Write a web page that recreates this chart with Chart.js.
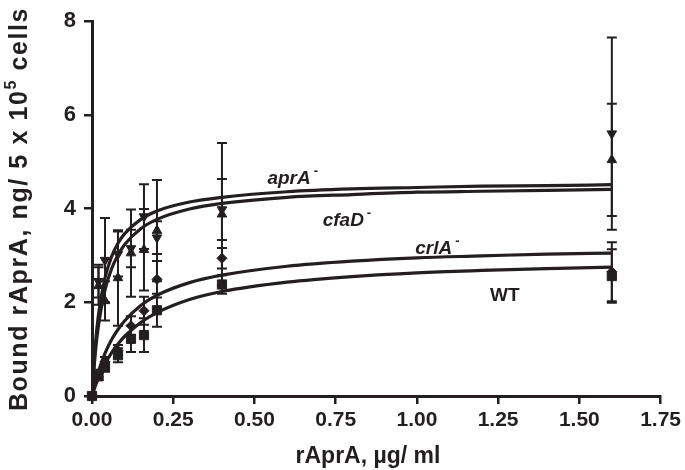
<!DOCTYPE html>
<html><head><meta charset="utf-8">
<script src="https://cdn.jsdelivr.net/npm/chart.js@4.4.0/dist/chart.umd.min.js"></script>
<style>html,body{margin:0;padding:0;background:#fff}</style>
</head><body>
<canvas id="c" width="685" height="470"></canvas>
<script>
// ---- data ----
const conc = [0, 0.02, 0.04, 0.08, 0.12, 0.16, 0.2, 0.4, 1.6];           // µg/ml
const aprA    = [0, 2.45, 2.90, 3.03, 3.15, 3.83, 3.38, 3.98, 5.60];
const aprAErr = [0, 0.35, 0.90, 0.48, 0.40, 0.69, 0.35, 0.65, 2.05];
const cfaD    = [0, 2.35, 2.03, 2.52, 3.05, 3.12, 3.53, 3.88, 5.04];
const cfaDErr = [0, 0.40, 0.42, 1.02, 0.93, 0.87, 1.08, 1.52, 1.20];
const crlA    = [0, 0.48, 0.73, 0.97, 1.50, 1.82, 2.49, 2.94, 2.65];
const crlAErr = [0, 0.08, 0.10, 0.12, 0.20, 0.30, 0.39, 0.22, 0.63];
const wt      = [0, 0.42, 0.62, 0.87, 1.22, 1.30, 1.83, 2.38, 2.56];
const wtErr   = [0, 0.08, 0.10, 0.15, 0.28, 0.36, 0.35, 0.20, 0.57];

// fitted curves, values
const fitX     = [0, 0.01, 0.02, 0.04, 0.06, 0.08, 0.1, 0.15, 0.2, 0.3, 0.4, 0.6, 0.8, 1.0, 1.2, 1.4, 1.6];
const aprAFit  = [0, 1.07, 1.74, 2.52, 2.97, 3.26, 3.46, 3.77, 3.95, 4.14, 4.24, 4.36, 4.42, 4.45, 4.48, 4.49, 4.51];
const cfaDFit  = [0, 0.90, 1.51, 2.26, 2.71, 3.01, 3.23, 3.57, 3.77, 3.99, 4.11, 4.24, 4.30, 4.35, 4.37, 4.39, 4.41];
const crlAFit  = [0, 0.29, 0.53, 0.91, 1.20, 1.42, 1.60, 1.93, 2.15, 2.42, 2.58, 2.77, 2.88, 2.95, 2.99, 3.03, 3.05];
const wtFit    = [0, 0.21, 0.38, 0.68, 0.92, 1.11, 1.27, 1.57, 1.78, 2.06, 2.23, 2.43, 2.55, 2.63, 2.68, 2.72, 2.75];

const xTicks = [0, 0.25, 0.5, 0.75, 1, 1.25, 1.5, 1.75];
const yTicks = [0, 2, 4, 6, 8];

const seriesNames = ['aprA', 'cfaD', 'crlA', 'WT'];
const curveLabels = [
  {text: 'aprA', sup: '-', x: 0.54, y: 4.53, italic: true},
  {text: 'cfaD', sup: '-', x: 0.71, y: 3.62, italic: true},
  {text: 'crlA', sup: '-', x: 0.995, y: 3.03, italic: true},
  {text: 'WT',   sup: '',  x: 1.225, y: 2.03, italic: false}
];
const xTitle = 'rAprA, µg/ ml';
const yTitleParts = ['Bound rAprA, ng/ 5 x 10', '5', ' cells'];

const INK = '#231f20';
const FONT = "'Liberation Sans', Arial, sans-serif";

function pts(xs, ys) { return xs.map((x, i) => ({x: x, y: ys[i]})); }

const pointSets = [
  {label: 'aprA', data: pts(conc, aprA), err: aprAErr, pointStyle: 'triangle', rotation: 180, pointRadius: 5.5},
  {label: 'cfaD', data: pts(conc, cfaD), err: cfaDErr, pointStyle: 'triangle', rotation: 0, pointRadius: 5.5},
  {label: 'crlA', data: pts(conc, crlA), err: crlAErr, pointStyle: 'rectRot', rotation: 0, pointRadius: 5},
  {label: 'WT',   data: pts(conc, wt),   err: wtErr,   pointStyle: 'rect', rotation: 0, pointRadius: 6.5}
].map(d => Object.assign(d, {
  type: 'scatter', showLine: false, backgroundColor: INK, borderColor: INK, borderWidth: 1,
  order: 1, clip: false, pointHoverRadius: d.pointRadius
}));

const curveSets = [aprAFit, cfaDFit, crlAFit, wtFit].map((f, i) => ({
  type: 'line', label: seriesNames[i] + ' fit', data: pts(fitX, f),
  borderColor: INK, borderWidth: 3.2, pointRadius: 0, fill: false,
  cubicInterpolationMode: 'monotone', order: 2
}));

const errorBars = {
  id: 'errorBars',
  beforeDatasetsDraw(chart) {
    const ctx = chart.ctx, xs = chart.scales.x, ys = chart.scales.y;
    ctx.save();
    ctx.strokeStyle = INK; ctx.lineWidth = 2;
    chart.data.datasets.forEach(ds => {
      if (!ds.err) return;
      ds.data.forEach((p, i) => {
        const e = ds.err[i];
        if (!e) return;
        const px = xs.getPixelForValue(p.x);
        const top = ys.getPixelForValue(p.y + e), bot = ys.getPixelForValue(p.y - e);
        ctx.beginPath();
        ctx.moveTo(px, top); ctx.lineTo(px, bot);
        ctx.moveTo(px - 5, top); ctx.lineTo(px + 5, top);
        ctx.moveTo(px - 5, bot); ctx.lineTo(px + 5, bot);
        ctx.stroke();
      });
    });
    ctx.restore();
  }
};

const textPlugin = {
  id: 'texts',
  afterDraw(chart) {
    const ctx = chart.ctx, xs = chart.scales.x, ys = chart.scales.y;
    ctx.save();
    ctx.fillStyle = INK;
    ctx.textBaseline = 'alphabetic';
    ctx.textAlign = 'left';
    curveLabels.forEach(l => {
      const px = xs.getPixelForValue(l.x), py = ys.getPixelForValue(l.y);
      ctx.font = (l.italic ? 'italic ' : '') + 'bold 19px ' + FONT;
      ctx.fillText(l.text, px, py);
      if (l.sup) {
        const w = ctx.measureText(l.text).width;
        ctx.font = 'bold 13px ' + FONT;
        ctx.fillText(l.sup, px + w + 3, py - 9);
      }
    });
    // x title
    ctx.font = 'bold 23px ' + FONT;
    ctx.textAlign = 'center';
    ctx.fillText(xTitle, 368, 463);
    // y title (rotated)
    ctx.translate(27, 209);
    ctx.rotate(-Math.PI / 2);
    ctx.letterSpacing = '1.6px';
    const big = 'bold 25px ' + FONT, small = 'bold 16px ' + FONT;
    ctx.font = big; const w0 = ctx.measureText(yTitleParts[0]).width;
    ctx.font = small; const w1 = ctx.measureText(yTitleParts[1]).width;
    ctx.font = big; const w2 = ctx.measureText(yTitleParts[2]).width;
    let x0 = -(w0 + w1 + w2) / 2;
    ctx.textAlign = 'left';
    ctx.font = big; ctx.fillText(yTitleParts[0], x0, 0);
    ctx.font = small; ctx.fillText(yTitleParts[1], x0 + w0, -11);
    ctx.font = big; ctx.fillText(yTitleParts[2], x0 + w0 + w1, 0);
    ctx.restore();
  }
};

new Chart(document.getElementById('c'), {
  data: {datasets: [...curveSets, ...pointSets]},
  options: {
    responsive: false, animation: false,
    layout: {padding: {top: 18, right: 22, left: 0, bottom: 0}},
    plugins: {legend: {display: false}, tooltip: {enabled: false}},
    scales: {
      x: {
        type: 'linear', min: 0, max: 1.75,
        afterBuildTicks: s => { s.ticks = xTicks.map(v => ({value: v})); },
        afterFit: s => { s.height = 74; },
        ticks: {callback: v => v.toFixed(2), color: INK, font: {family: FONT, size: 21, weight: 'bold'}, padding: 4, maxRotation: 0},
        grid: {drawOnChartArea: false, drawTicks: true, tickLength: 8, color: INK, lineWidth: 2.5},
        border: {display: true, width: 3, color: INK}
      },
      y: {
        type: 'linear', min: 0, max: 8,
        afterBuildTicks: s => { s.ticks = yTicks.map(v => ({value: v})); },
        afterFit: s => { s.width = 92; },
        ticks: {color: INK, font: {family: FONT, size: 22, weight: 'bold'}, padding: 8},
        grid: {drawOnChartArea: false, drawTicks: true, tickLength: 8, color: INK, lineWidth: 2.5},
        border: {display: true, width: 3, color: INK}
      }
    }
  },
  plugins: [errorBars, textPlugin]
});
</script>
</body></html>
